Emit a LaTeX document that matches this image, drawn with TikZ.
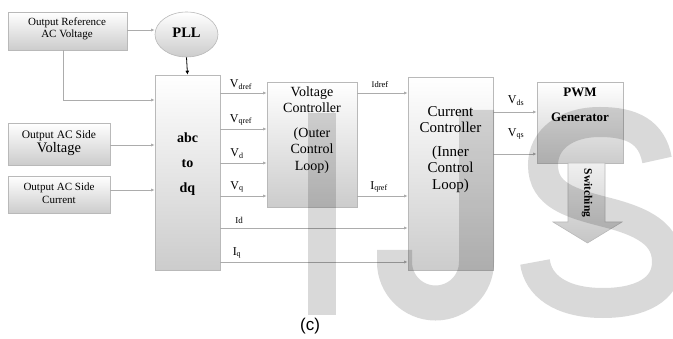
\documentclass[tikz,border=0pt]{standalone}
\usepackage{fontspec}
\setmainfont{Liberation Serif}
\newfontfamily\capfont{Liberation Sans}
\usetikzlibrary{arrows.meta,calc,shapes.geometric}
\tikzset{
  box/.style={draw=gray!55, line width=0.6pt, top color=white, bottom color=gray!40, inner sep=0pt},
  conn/.style={draw=gray!65, line width=0.7pt, -{Latex[length=3.5pt,width=3pt]}},
  blackconn/.style={draw=black, line width=0.8pt, -{Latex[length=4pt,width=4pt]}},
  txt/.style={inner sep=0pt, align=center},
  lbl/.style={inner sep=0pt, font=\fontsize{12}{13}\selectfont},
  wm/.style={black, opacity=0.15}
}
\begin{document}
\begin{tikzpicture}[x=1pt, y=-1pt]
\useasboundingbox (0,0) rectangle (673,339);

% boxes
\node[box, minimum width=119pt, minimum height=38pt] (ref) at (67.5,31) {};
\node[box, ellipse, minimum width=63pt, minimum height=45pt] (pll) at (186.5,34.5) {};
\node[box, minimum width=65pt, minimum height=195pt] (abc) at (187.5,172.5) {};
\node[box, minimum width=102pt, minimum height=42pt] (acv) at (59,144) {};
\node[box, minimum width=102pt, minimum height=37pt] (acc) at (59,194.5) {};
\node[box, minimum width=90pt, minimum height=125pt] (vc) at (312,144.5) {};
\node[box, minimum width=85pt, minimum height=193pt] (cc) at (450.5,173.5) {};
\node[box, minimum width=86pt, minimum height=81pt] (pwm) at (580,122.5) {};

% box texts
\node[txt, font=\fontsize{11}{12}\selectfont] (reftxt) at (67,29) {Output Reference\\AC Voltage};
\node[txt, font=\bfseries\fontsize{14.5}{15}\selectfont] (plltxt) at (186.5,33) {PLL};
\node[txt, font=\bfseries\fontsize{14}{25}\selectfont] (abctxt) at (187.5,164) {abc\\to\\dq};
\node[txt] (acvtxt) at (59,143) {{\fontsize{11.5}{12}\selectfont Output AC Side}\\[1pt]{\fontsize{14.5}{15}\selectfont Voltage}};
\node[txt, font=\fontsize{11}{13}\selectfont] (acctxt) at (59,193.5) {Output AC Side\\Current};
\node[txt, font=\fontsize{14}{16.5}\selectfont] (vctxt) at (312,130) {Voltage\\Controller\\[8pt](Outer\\Control\\Loop)};
\node[txt, font=\fontsize{15}{16.5}\selectfont] (cctxt) at (450.5,149.5) {Current\\Controller\\[7pt](Inner\\Control\\Loop)};
\node[txt, font=\bfseries\fontsize{13}{25}\selectfont] (pwmtxt) at (580,105) {PWM\\Generator};

% y levels
\coordinate (yP) at (0,30);
\coordinate (bend) at (63,100);
\coordinate (yAcv) at (0,145);
\coordinate (yAcc) at (0,190);
\coordinate (y1) at (0,93);
\coordinate (y2) at (0,129);
\coordinate (y3) at (0,163);
\coordinate (y4) at (0,196);
\coordinate (y5) at (0,228);
\coordinate (y6) at (0,262);
\coordinate (yVds) at (0,112);
\coordinate (yVqs) at (0,154);

% connectors
\draw[conn] (ref.east |- yP) -- (pll.west |- yP);
\draw[blackconn] (pll.south) -- (abc.north);
\draw[conn] (ref.south -| bend) |- (abc.west |- bend);
\draw[conn] (acv.east |- yAcv) -- (abc.west |- yAcv);
\draw[conn] (acc.east |- yAcc) -- (abc.west |- yAcc);
\draw[conn] (abc.east |- y1) -- (vc.west |- y1);
\draw[conn] (abc.east |- y2) -- (vc.west |- y2);
\draw[conn] (abc.east |- y3) -- (vc.west |- y3);
\draw[conn] (abc.east |- y4) -- (vc.west |- y4);
\draw[conn] (abc.east |- y5) -- (cc.west |- y5);
\draw[conn] (abc.east |- y6) -- (cc.west |- y6);
\draw[conn] (vc.east |- y1) -- (cc.west |- y1);
\draw[conn] (vc.east |- y4) -- (cc.west |- y4);
\draw[conn] (cc.east |- yVds) -- (pwm.west |- yVds);
\draw[conn] (cc.east |- yVqs) -- (pwm.west |- yVqs);

% labels
\node[lbl] (lVdref) at (241,85) {V\textsubscript{dref}};
\node[lbl] (lVqref) at (241,120) {V\textsubscript{qref}};
\node[lbl] (lVd) at (237,154) {V\textsubscript{d}};
\node[lbl] (lVq) at (237,187) {V\textsubscript{q}};
\node[lbl, font=\fontsize{9}{10}\selectfont] (lId) at (239,220) {Id};
\node[lbl] (lIq) at (237,253) {I\textsubscript{q}};
\node[lbl, font=\fontsize{8.5}{10}\selectfont] (lIdref) at (380,85) {Idref};
\node[lbl] (lIqref) at (379,187) {I\textsubscript{qref}};
\node[lbl] (lVds) at (516,101) {V\textsubscript{ds}};
\node[lbl] (lVqs) at (516,134) {V\textsubscript{qs}};

% switching arrow
\path[draw=gray!55, line width=0.6pt, top color=gray!12, bottom color=gray!45]
  (568,163) -- (605,163) -- (605,222) -- (622,222) -- (587.5,243) -- (553,222) -- (568,222) -- cycle;
\node[rotate=-90, inner sep=0pt, font=\bfseries\fontsize{11.5}{12}\selectfont] (sw) at (587,193) {Switching};

% caption
\node[inner sep=0pt, font=\capfont\fontsize{17}{18}\selectfont] (cap) at (310,326) {(c)};

% watermark
\begin{scope}
\clip (0,0) rectangle (673,339);
\fill[wm] (308,113) rectangle (336,315);
\draw[wm, line width=35pt] (476.5,110) -- (476.5,262) arc[start angle=0,end angle=180,radius=41] -- (394.5,250);
\draw[wm, line width=30pt] (657,160) .. controls (652,132) and (632,122) .. (600,122)
  .. controls (565,122) and (543,140) .. (543,165)
  .. controls (543,195) and (570,203) .. (605,212)
  .. controls (645,222) and (667,235) .. (667,262)
  .. controls (667,290) and (640,303) .. (603,303)
  .. controls (560,303) and (538,285) .. (535,262);
\end{scope}
\end{tikzpicture}
\end{document}
